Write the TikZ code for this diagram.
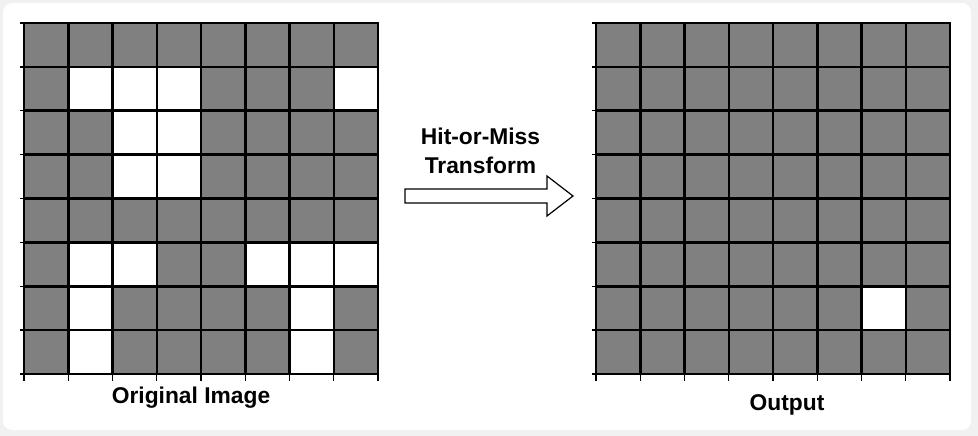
\documentclass[tikz,border=0pt]{standalone}
\usepackage{fontspec}
\setmainfont{Liberation Sans}
\usetikzlibrary{calc}
\definecolor{bgcol}{HTML}{F1F1F1}
\definecolor{cellgray}{HTML}{808080}
\tikzset{
  gridline/.style={black, line width=2.5pt, line cap=rect},
  tickline/.style={black, line width=1.3pt},
  lbl/.style={font=\bfseries\fontsize{22.8}{29}\selectfont, inner sep=0pt, align=center},
  arrowshape/.style={draw=black, fill=white, line width=1.2pt, line join=miter}
}
\begin{document}
\begin{tikzpicture}[x=1pt,y=-1pt]
\useasboundingbox (0,0) rectangle (978,436);
\fill[bgcol] (0,0) rectangle (978,436);
\fill[white, rounded corners=9pt] (3,3) rectangle (971,430);
% left grid: original image
\begin{scope}[shift={(24,23)}, x=44.25pt, y=-43.875pt]
  \fill[cellgray] (0,0) rectangle (8,8);
  \foreach \c/\r in {1/1,2/1,3/1,7/1,2/2,3/2,2/3,3/3,1/5,2/5,5/5,6/5,7/5,1/6,6/6,1/7,6/7}
    \fill[white] (\c,\r) rectangle ++(1,1);
  \foreach \i in {0,...,8} {
    \draw[gridline] (\i,0) -- (\i,8);
    \draw[gridline] (0,\i) -- (8,\i);
    \draw[tickline] (\i,8) -- ++(0pt,-7pt);
    \draw[tickline] (0,\i) -- ++(-4pt,0pt);
  }
\end{scope}
% right grid: output
\begin{scope}[shift={(596,23)}, x=44.25pt, y=-43.875pt]
  \fill[cellgray] (0,0) rectangle (8,8);
  \fill[white] (6,6) rectangle ++(1,1);
  \foreach \i in {0,...,8} {
    \draw[gridline] (\i,0) -- (\i,8);
    \draw[gridline] (0,\i) -- (8,\i);
    \draw[tickline] (\i,8) -- ++(0pt,-7pt);
    \draw[tickline] (0,\i) -- ++(-4pt,0pt);
  }
\end{scope}
% labels
\node[lbl, anchor=base] (orig) at (191,403) {Original Image};
\node[lbl, anchor=base] (out) at (787,410) {Output};
\node[lbl] (hm) at (480.5,151) {Hit-or-Miss\\Transform};
% arrow
\coordinate (atail) at (405,196);
\coordinate (atip) at (573,196);
\draw[arrowshape] ($(atail)+(0,-7)$) -- (547,189) -- (547,176) -- (atip) -- (547,216) -- (547,203) -- ($(atail)+(0,7)$) -- cycle;
\end{tikzpicture}
\end{document}
